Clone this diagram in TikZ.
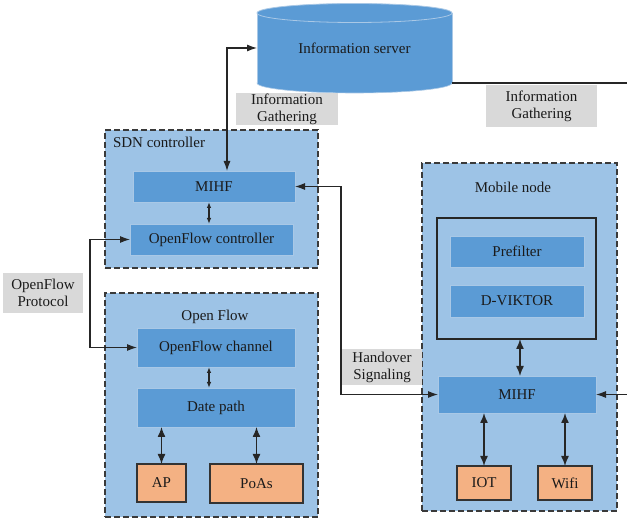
\documentclass[tikz,border=0pt]{standalone}
\usepackage{fontspec}
\setmainfont{Liberation Serif}
\usetikzlibrary{arrows.meta}
\definecolor{contfill}{HTML}{9DC3E6}
\definecolor{boxfill}{HTML}{5B9BD5}
\definecolor{boxedge}{HTML}{A9C8E6}
\definecolor{orangefill}{HTML}{F4B183}
\definecolor{grayfill}{HTML}{D9D9D9}
\definecolor{dashcol}{HTML}{3A3A3A}
\definecolor{txt}{HTML}{1A1A1A}
\tikzset{
  base/.style={inner sep=0pt, outer sep=0pt, font=\fontsize{15}{17}\selectfont, text=txt, align=center},
  container/.style={base, fill=contfill, draw=dashcol, line width=1.3pt, dash pattern=on 6pt off 3pt},
  bluebox/.style={base, fill=boxfill, draw=boxedge, line width=0.6pt},
  orangebox/.style={base, fill=orangefill, draw=black!80, line width=1.1pt},
  graylabel/.style={base, fill=grayfill},
  frame/.style={base, draw=black!85, line width=1.1pt},
  conn/.style={draw=black!85, line width=1.1pt},
  arr/.style={conn, {Latex[length=10pt,width=7pt]}-{Latex[length=10pt,width=7pt]}},
  sarr/.style={conn, {Latex[length=6pt,width=4.5pt]}-{Latex[length=6pt,width=4.5pt]}},
  barr/.style={conn, line width=1.4pt, {Latex[length=10pt,width=8pt]}-{Latex[length=10pt,width=8pt]}},
  rarr/.style={conn, -{Latex[length=10pt,width=7pt]}},
}
\begin{document}
\begin{tikzpicture}[x=1pt,y=-1pt]
\useasboundingbox (0,0) rectangle (627,518);
\fill[white] (0,0) rectangle (627,518);
% cylinder (information server)
\filldraw[fill=boxfill, draw=boxedge, line width=0.6pt] (354.5,83) ellipse [x radius=97.5pt, y radius=10pt];
\fill[boxfill] (257,13) rectangle (452,83);
\draw[boxedge, line width=0.6pt] (257,13) -- (257,83) (452,13) -- (452,83);
\filldraw[fill=boxfill, draw=boxedge, line width=0.8pt] (354.5,13) ellipse [x radius=97.5pt, y radius=9.5pt];
\node[base, minimum width=195pt, minimum height=70pt] (server) at (354.5,48) {Information server};

% containers
\node[container, minimum width=213pt, minimum height=138pt] (sdn) at (211.5,199) {};
\node[base, anchor=west] (sdnlbl) at (113,142) {SDN controller};
\node[container, minimum width=213pt, minimum height=224pt] (of) at (211.5,405) {};
\node[base] (oflbl) at (215,317) {Open Flow};
\node[container, minimum width=195pt, minimum height=348pt] (mn) at (519.5,337) {};
\node[base] (mnlbl) at (513,187) {Mobile node};

% SDN controller content
\node[bluebox, minimum width=162pt, minimum height=31pt] (mihfa) at (214,186.5) {MIHF};
\node[bluebox, minimum width=163pt, minimum height=31pt] (ofc) at (211.5,239.5) {OpenFlow controller};

% Open Flow content
\node[bluebox, minimum width=158pt, minimum height=39pt] (ofch) at (216,347.5) {OpenFlow channel};
\node[bluebox, minimum width=158pt, minimum height=39pt] (dp) at (216,407.5) {Date path};
\node[orangebox, minimum width=49pt, minimum height=38pt] (ap) at (161.5,483) {AP};
\node[orangebox, minimum width=93pt, minimum height=39pt] (poas) at (256.5,483.5) {PoAs};

% Mobile node content
\node[frame, minimum width=159pt, minimum height=121pt] (inner) at (516.5,278.5) {};
\node[bluebox, minimum width=134pt, minimum height=31pt] (pre) at (517,251.5) {Prefilter};
\node[bluebox, minimum width=134pt, minimum height=32pt] (dv) at (517,301) {D-VIKTOR};
\node[bluebox, minimum width=158pt, minimum height=37pt] (mihfb) at (517,394.5) {MIHF};
\node[orangebox, minimum width=54pt, minimum height=34pt] (iot) at (484,483) {IOT};
\node[orangebox, minimum width=54pt, minimum height=34pt] (wifi) at (565,483) {Wifi};

% connectors
\draw[arr] ([xshift=13pt]mihfa.north) |- (server.west);
\draw[conn] (server.south east) -- ++(175,0);
\draw[sarr] ([xshift=-5pt]mihfa.south) -- ([xshift=-5pt]mihfa.south |- ofc.north);
\draw[arr] (ofc.west) -- ++(-40,0) |- (ofch.west);
\draw[sarr] ([xshift=-7pt]ofch.south) -- ([xshift=-7pt]ofch.south |- dp.north);
\draw[barr] (ap.north) -- (ap.north |- dp.south);
\draw[barr] (poas.north) -- (poas.north |- dp.south);
\draw[arr] (mihfa.east) -- ++(46,0) |- (mihfb.west);
\draw[barr] ([xshift=3.5pt]inner.south) -- ([xshift=3.5pt]inner.south |- mihfb.north);
\draw[barr] (iot.north) -- (iot.north |- mihfb.south);
\draw[barr] (wifi.north) -- (wifi.north |- mihfb.south);
\draw[rarr] ([xshift=31pt]mihfb.east) -- (mihfb.east);

% gray labels
\node[graylabel, minimum width=102pt, minimum height=32pt] (ig1) at (287,109) {Information\\Gathering};
\node[graylabel, minimum width=111pt, minimum height=42pt] (ig2) at (541.5,106) {Information\\Gathering};
\node[graylabel, minimum width=80pt, minimum height=40pt] (ofp) at (43,293) {OpenFlow\\Protocol};
\node[graylabel, minimum width=80pt, minimum height=36pt] (hs) at (382,367) {Handover\\Signaling};
\end{tikzpicture}
\end{document}
